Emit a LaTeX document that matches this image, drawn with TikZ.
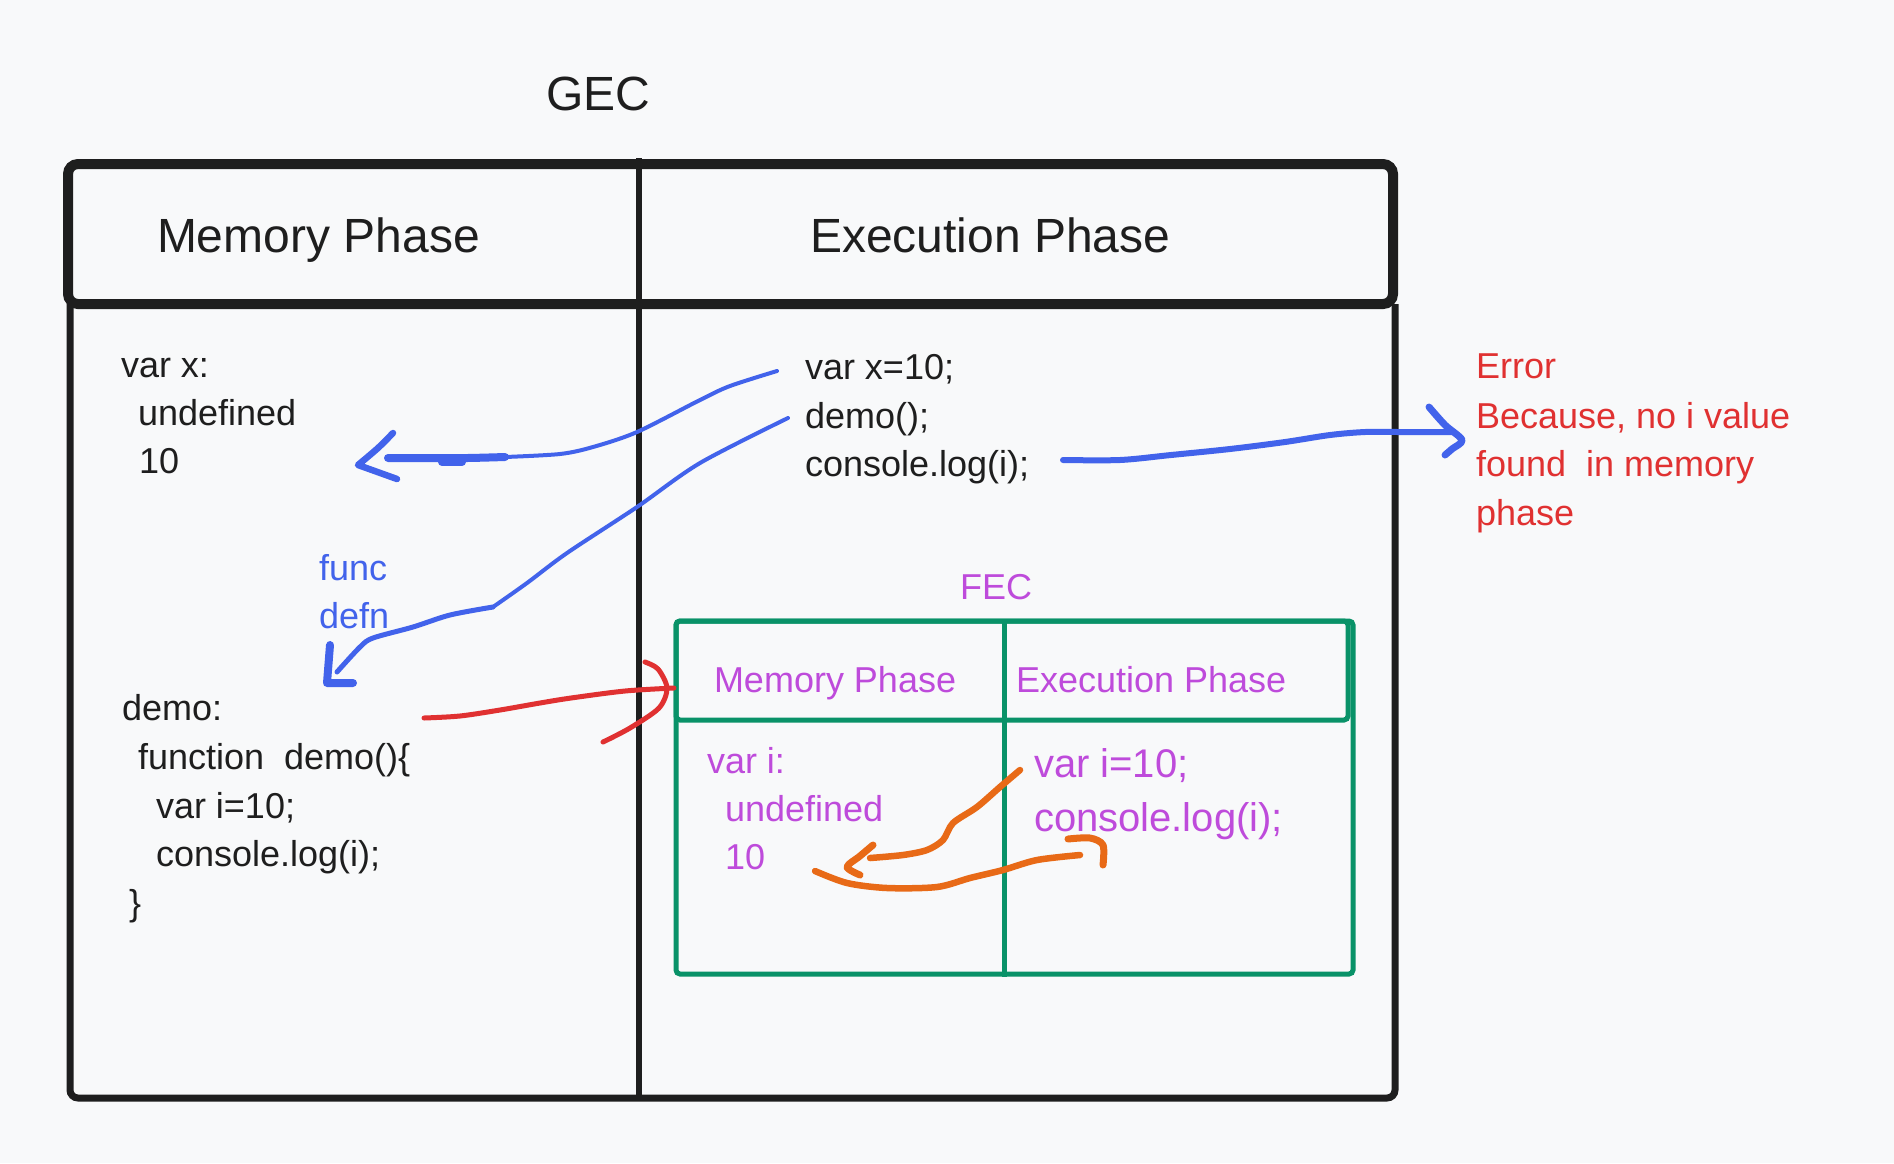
\documentclass[tikz,border=0pt]{standalone}
\usepackage{fontspec}
\setmainfont{Liberation Sans}
\definecolor{ink}{HTML}{1E1E1E}
\definecolor{bl}{HTML}{4263EB}
\definecolor{rd}{HTML}{E03131}
\definecolor{pp}{HTML}{BE4BDB}
\definecolor{gr}{HTML}{099268}
\definecolor{og}{HTML}{E86A17}
\definecolor{bgc}{HTML}{F8F9FA}
\begin{document}
\begin{tikzpicture}[x=1pt,y=-1pt,
  txt/.style={anchor=base west, inner sep=0pt, outer sep=0pt},
  big/.style={txt, font=\fontsize{48}{58}\selectfont, text=ink},
  code/.style={txt, font=\fontsize{36}{44}\selectfont, text=ink},
  bluetxt/.style={txt, font=\fontsize{36}{44}\selectfont, text=bl},
  redtxt/.style={txt, font=\fontsize{36}{44}\selectfont, text=rd},
  purtxt/.style={txt, font=\fontsize{36}{44}\selectfont, text=pp},
  purbig/.style={txt, font=\fontsize{40}{48}\selectfont, text=pp},
  pen/.style={line cap=round, line join=round},
]
\useasboundingbox[fill=bgc] (0,0) rectangle (1894,1163);

% GEC frame
\draw[ink, line width=7pt, rounded corners=8pt] (70,304) -- (70,1098) -- (1395,1098) -- (1395,304);
\draw[ink, line width=10pt, rounded corners=10pt] (68,164) rectangle (1393,304);
\draw[ink, line width=6pt] (639,158) -- (639,1098);

% FEC frame
\draw[gr, line width=5pt, rounded corners=4pt] (676,621) rectangle (1353,974);
\draw[gr, line width=5pt, rounded corners=4pt] (676,621) rectangle (1348,720);
\draw[gr, line width=5pt] (1004,621) -- (1004,977);

% texts
\node[big] (gec) at (546,110) {GEC};
\node[big] (mph) at (157,252) {Memory Phase};
\node[big] (eph) at (810,252) {Execution Phase};

\node[code] (vx) at (121,377) {var x:};
\node[code] (vxu) at (138,425) {undefined};
\node[code] (vx10) at (139,473) {10};

\node[code] (ex1) at (805,379) {var x=10;};
\node[code] (ex2) at (805,428) {demo();};
\node[code] (ex3) at (805,476) {console.log(i);};

\node[bluetxt] (fn1) at (319,580) {func};
\node[bluetxt] (fn2) at (319,628) {defn};

\node[code] (dm1) at (122,720) {demo:};
\node[code] (dm2) at (138,769) {function\ \ demo()\{};
\node[code] (dm3) at (156,818) {var i=10;};
\node[code] (dm4) at (156,866) {console.log(i);};
\node[code] (dm5) at (129,915) {\}};

\node[purtxt] (fec) at (960,599) {FEC};
\node[purtxt] (fmp) at (714,692) {Memory Phase};
\node[purtxt] (fep) at (1016,692) {Execution Phase};
\node[purtxt] (fvi) at (707,773) {var i:};
\node[purtxt] (fvu) at (725,821) {undefined};
\node[purtxt] (fv10) at (725,869) {10};
\node[purbig] (fx1) at (1034,777) {var i=10;};
\node[purbig] (fx2) at (1034,831) {console.log(i);};

\node[redtxt] (er1) at (1476,378) {Error};
\node[redtxt] (er2) at (1476,428) {Because, no i value};
\node[redtxt] (er3) at (1476,476) {found\ \ in memory};
\node[redtxt] (er4) at (1476,525) {phase};

% blue arrow: var x=10 -> 10
\coordinate (a1s) at (777,371);
\coordinate (a1e) at (358,465);
\draw[bl, line width=4pt, pen] plot[smooth] coordinates {(a1s) (730,386) (700,400) (637,432) (593,447) (560,454) (505,457)};
\draw[bl, line width=8pt, pen] plot[smooth] coordinates {(505,457) (467,458) (420,458) (388,458)};
\draw[bl, line width=8pt, pen] (442,462) -- (462,462);
\draw[bl, line width=6.5pt, pen] plot[smooth] coordinates {(393,433) (378,448) (a1e)} -- (397,479);

% blue arrow: demo() -> func defn
\coordinate (a2s) at (788,418);
\coordinate (a2e) at (327,683);
\draw[bl, line width=4pt, pen] plot[smooth] coordinates {(a2s) (700,463) (637,507) (567,553) (527,583) (493,607)};
\draw[bl, line width=5pt, pen] plot[smooth] coordinates {(493,607) (450,615) (413,627) (373,638) (360,647) (337,672)};
\draw[bl, line width=8pt, pen] (330,645) -- (a2e) -- (353,683);

% blue arrow: console.log(i) -> Error
\coordinate (a3s) at (1063,460);
\coordinate (a3e) at (1462,440);
\draw[bl, line width=6pt, pen] plot[smooth] coordinates {(a3s) (1120,460) (1171,455) (1230,449) (1285,442) (1330,435) (1365,432) (1400,432) (1452,432)};
\draw[bl, line width=7pt, pen] plot[smooth] coordinates {(1429,407) (1445,425) (a3e) (1452,449) (1445,455)};

% red arrow: demo -> FEC
\coordinate (r1s) at (424,718);
\draw[rd, line width=5pt, pen] plot[smooth] coordinates {(r1s) (460,716) (500,710) (540,703) (571,698) (625,691) (674,688)};
\draw[rd, line width=5pt, pen] plot[smooth] coordinates {(645,662) (658,669) (667,688) (659,708) (630,728) (603,742)};

% orange arrow: var i=10 -> 10
\coordinate (o1s) at (1020,770);
\coordinate (o1e) at (847,867);
\draw[og, line width=6.5pt, pen] plot[smooth] coordinates {(o1s) (1000,787) (977,807) (953,823) (943,840) (927,850) (903,855) (870,858)};
\draw[og, line width=7pt, pen] plot[smooth] coordinates {(873,845) (860,856) (o1e) (860,875)};

% orange arrow: 10 -> console.log(i)
\coordinate (o2s) at (815,871);
\coordinate (o2e) at (1103,865);
\draw[og, line width=6.5pt, pen] plot[smooth] coordinates {(o2s) (847,883) (887,888) (937,887) (970,878) (1003,870) (1037,860) (1080,855)};
\draw[og, line width=7pt, pen] plot[smooth] coordinates {(1068,839) (1090,838) (1103,845) (o2e)};
\end{tikzpicture}
\end{document}
